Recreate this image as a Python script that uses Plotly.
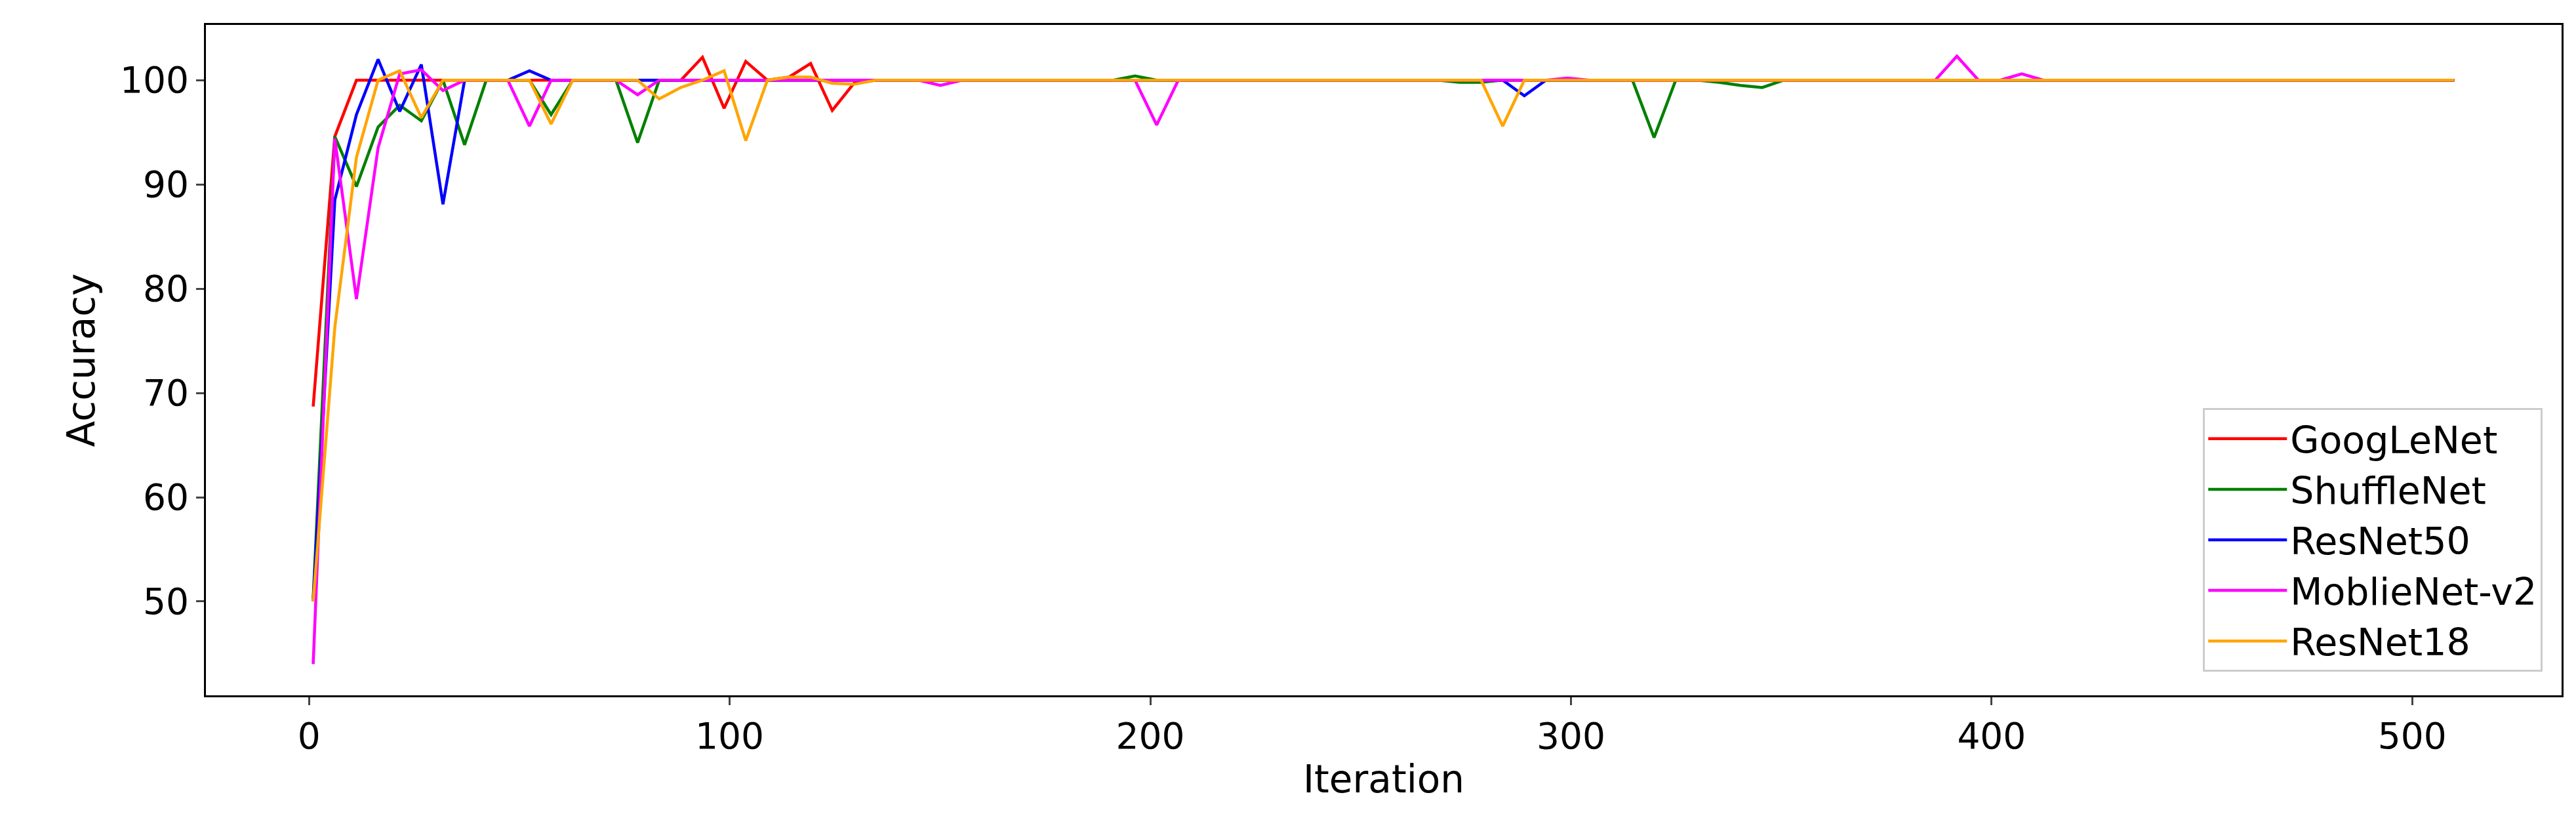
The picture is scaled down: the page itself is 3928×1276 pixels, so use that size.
import numpy as np
import plotly.graph_objects as go

N = 100
iterations = np.linspace(1, 510, N)

def series(base, changes):
    vals = [base] * N
    for k, v in changes.items():
        vals[k] = v
    return vals

googlenet = series(100, {0: 68.7, 1: 94.6, 18: 102.2, 19: 97.3, 20: 101.8, 22: 100.3,
                         23: 101.6, 24: 97.1, 25: 99.7})
shufflenet = series(100, {0: 50.3, 1: 94.6, 2: 89.8, 3: 95.5, 4: 97.6, 5: 96.1, 7: 93.8,
                          11: 96.7, 15: 94.0, 38: 100.4, 53: 99.8, 54: 99.8, 62: 94.5,
                          65: 99.8, 66: 99.5, 67: 99.3})
resnet50 = series(100, {0: 50.0, 1: 88.5, 2: 96.7, 3: 102.0, 4: 97.0, 5: 101.5, 6: 88.1,
                        10: 100.9, 56: 98.5})
mobilenet = series(100, {0: 44.0, 1: 94.4, 2: 79.0, 3: 93.5, 4: 100.6, 5: 101.0, 6: 99.0,
                         10: 95.6, 15: 98.6, 29: 99.5, 39: 95.7, 58: 100.2, 76: 102.3,
                         79: 100.6})
resnet18 = series(100, {0: 50.0, 1: 76.3, 2: 92.6, 4: 100.9, 5: 96.4, 11: 95.8, 16: 98.2,
                        17: 99.3, 19: 100.9, 20: 94.2, 22: 100.3, 23: 100.3, 24: 99.7,
                        25: 99.6, 55: 95.6})

names = ["GoogLeNet", "ShuffleNet", "ResNet50", "MoblieNet-v2", "ResNet18"]
colors = ["red", "green", "blue", "magenta", "orange"]
data = [googlenet, shufflenet, resnet50, mobilenet, resnet18]

fig = go.Figure()
for n, c, d in zip(names, colors, data):
    fig.add_trace(go.Scatter(x=iterations, y=d, mode="lines", name=n,
                             line=dict(color=c, width=4.5)))

axis_common = dict(showline=True, linecolor="black", linewidth=3, mirror=True,
                   ticks="outside", ticklen=12, tickwidth=3, showgrid=False, zeroline=False,
                   tickfont=dict(size=55, color="black"))
fig.update_xaxes(range=[-24.5, 535.5], tickvals=[0, 100, 200, 300, 400, 500],
                 title=dict(text="Iteration", font=dict(size=58, color="black"), standoff=15),
                 **axis_common)
fig.update_yaxes(range=[41.0, 105.3], tickvals=[50, 60, 70, 80, 90, 100],
                 title=dict(text="Accuracy", font=dict(size=58, color="black"), standoff=20),
                 **axis_common)
fig.update_layout(
    width=3928, height=1276,
    margin=dict(l=306, r=30, t=30, b=224),
    plot_bgcolor="white", paper_bgcolor="white",
    font=dict(family="DejaVu Sans", color="black"),
    legend=dict(x=0.992, y=0.035, xanchor="right", yanchor="bottom",
                bordercolor="#cccccc", borderwidth=3, bgcolor="rgba(255,255,255,0.8)",
                font=dict(size=57), itemwidth=120, tracegroupgap=22),
)
fig.write_html("out.html")
